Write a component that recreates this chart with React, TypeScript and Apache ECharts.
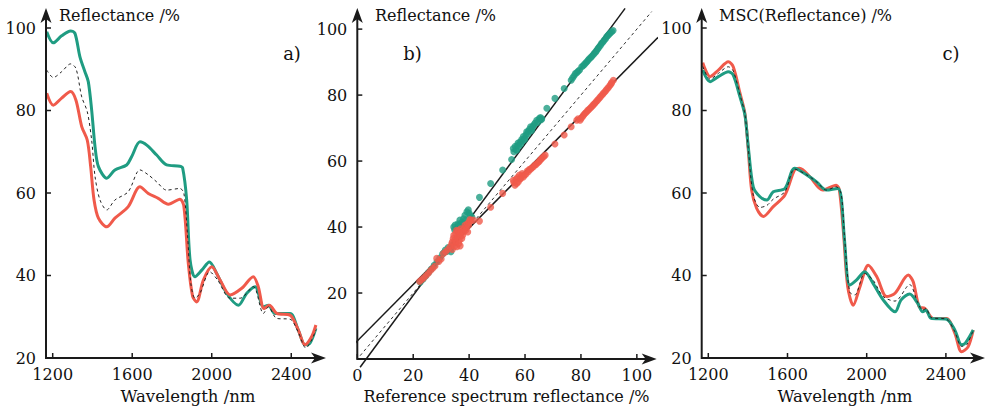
import React, { useEffect, useRef } from "react";
import * as echarts from "echarts";

const GREEN = "#1f9c82";
const RED = "#f05a4b";
const INK = "#1a1a1a";
const FONT = '"DejaVu Serif"';

// tick labels
const wavelengthTicks = [1200, 1600, 2000, 2400];
const reflectanceTicks = [20, 40, 60, 80, 100];
const scatterXTicks = [0, 20, 40, 60, 80, 100];
const scatterYTicks = [20, 40, 60, 80, 100];

// panel a) raw spectra [wavelength nm, reflectance %]
const aGreen = [
  [1170, 99.1], [1203, 96.4], [1245, 98.1], [1290, 99.3], [1312, 98.7], [1337, 93], [1362, 89.4],
  [1379, 87], [1396, 80.1], [1413, 71.2], [1430, 66.4], [1472, 63.6], [1513, 65.6], [1572, 66.8],
  [1597, 68.8], [1639, 72.4], [1673, 71.6], [1723, 69.2], [1773, 66.8], [1840, 66.5], [1854, 66],
  [1874, 58.3], [1891, 43.8], [1916, 39.7], [1950, 41.3], [1988, 43.3], [2025, 40.5], [2075, 35.7],
  [2134, 32.8], [2176, 35.7], [2218, 37.3], [2260, 32.4], [2285, 32.8], [2318, 30.8], [2394, 30.8],
  [2435, 26.8], [2469, 23.2], [2494, 23.6], [2524, 27.2],
];
const aRed = [
  [1170, 84.2], [1203, 81.3], [1245, 83], [1290, 84.6], [1317, 82.5], [1346, 76.1], [1374, 72.8],
  [1391, 66.4], [1408, 58.3], [1430, 53.9], [1472, 51.8], [1513, 53.9], [1580, 56.7], [1639, 61.5],
  [1681, 59.9], [1731, 58.7], [1782, 57.3], [1840, 58.5], [1860, 56.7], [1882, 43], [1904, 34.9],
  [1924, 33.6], [1958, 38.9], [2000, 42.1], [2042, 38.9], [2092, 35.3], [2151, 36.9], [2209, 39.7],
  [2234, 37.3], [2263, 32], [2290, 32.8], [2327, 30.8], [2394, 30.4], [2435, 26.8], [2469, 23.2],
  [2503, 25.2], [2524, 28],
];
const aMean = [
  [1170, 89.8], [1203, 88], [1245, 89.4], [1290, 91.3], [1317, 90.2], [1346, 83.3], [1374, 79.7],
  [1396, 72.8], [1413, 64], [1438, 58.3], [1472, 55.9], [1513, 58.3], [1580, 60.3], [1639, 65.6],
  [1681, 64.4], [1723, 62.7], [1773, 60.7], [1840, 61.1], [1860, 59.9], [1878, 50], [1895, 38],
  [1916, 34.5], [1941, 35.7], [1990, 40.9], [2030, 38.9], [2092, 34.5], [2143, 34.5], [2209, 37.3],
  [2260, 30.8], [2285, 32.4], [2327, 29.6], [2394, 29.4], [2435, 26.3], [2474, 22.4], [2503, 24.4],
  [2524, 26.8],
];

// panel c) MSC corrected spectra
const cGreen = [
  [1172, 89.8], [1209, 87], [1251, 88.2], [1301, 89.4], [1326, 88.6], [1360, 83.3], [1385, 78.9],
  [1402, 71.2], [1427, 61.5], [1461, 59.1], [1496, 58.3], [1528, 60.3], [1587, 61.1], [1636, 66],
  [1697, 64.4], [1747, 62.7], [1797, 60.7], [1854, 61.1], [1871, 59.1], [1888, 48.6], [1914, 37.7],
  [1948, 38.9], [1990, 40.9], [2032, 38.1], [2083, 34.1], [2143, 31.2], [2174, 34.1], [2217, 35.5],
  [2257, 33.3], [2283, 31.2], [2300, 31.6], [2325, 29.6], [2403, 29.4], [2445, 26.8], [2479, 23.2],
  [2498, 23.6], [2538, 26.8],
];
const cRed = [
  [1172, 91.6], [1209, 88.2], [1251, 89.8], [1301, 91.8], [1326, 90.6], [1360, 84.2], [1385, 79.3],
  [1402, 70.4], [1419, 60.7], [1444, 56.3], [1478, 54.3], [1528, 56.7], [1587, 59.5], [1636, 65.6],
  [1661, 66], [1712, 64], [1778, 60.7], [1846, 61.9], [1862, 60.7], [1883, 50.2], [1904, 37.3],
  [1932, 32.8], [1966, 37.3], [2008, 42.5], [2051, 39.7], [2101, 34.9], [2143, 35.7], [2210, 40.1],
  [2235, 38.5], [2265, 32.4], [2294, 32], [2336, 29.6], [2403, 29.6], [2445, 26], [2479, 21.5],
  [2512, 22.7], [2538, 26.8],
];
const cMean = [
  [1172, 90.7], [1209, 87.6], [1251, 89], [1301, 90.6], [1326, 89.6], [1360, 83.8], [1385, 79.1],
  [1402, 70.8], [1427, 59.5], [1461, 56.5], [1496, 57], [1528, 58.5], [1587, 60.3], [1636, 65.8],
  [1697, 64.4], [1747, 62.7], [1797, 60.7], [1846, 61.5], [1871, 59.8], [1888, 49.4], [1914, 36],
  [1940, 35.3], [1990, 40.5], [2032, 38.9], [2083, 34.9], [2143, 33.8], [2217, 37.8], [2257, 33.5],
  [2283, 31.6], [2300, 32], [2325, 29.8], [2403, 29.4], [2445, 26.4], [2479, 22.8], [2505, 23.2],
  [2538, 26.8],
];

// panel b) scatter [reference reflectance, sample reflectance]
const bGreen = [
  [22.5, 23.3], [23.5, 24.2], [24.5, 25.2], [25.5, 26.2], [26.5, 27.3], [27.5, 28.4], [28.5, 29.5],
  [29.5, 30.6], [30.5, 31.8], [31, 32.3], [31.5, 33], [32, 32.6], [32.5, 33.8], [33.5, 33.5],
  [33.5, 32.5], [34, 34.5], [34.5, 40], [34.8, 39.2], [35, 40.6], [35.5, 39.5], [36, 41],
  [36.3, 40.5], [36.7, 42.1], [37, 40.8], [37.5, 41.5], [38, 42.5], [38.5, 43.6], [39, 42.2],
  [39.2, 44.6], [39.7, 45.2], [40, 44.2], [40.5, 43.5], [41, 43], [43.7, 49], [47.7, 53.2],
  [52, 57.3], [55.2, 60.5], [55.8, 63.8], [56, 62.8], [56.5, 64.5], [56.8, 63.5], [57, 63.3],
  [57.3, 64.7], [57.5, 65.5], [57.8, 64.5], [58.2, 65.8], [58.5, 65.2], [58.8, 66.5], [59, 66],
  [59.4, 67.4], [59.8, 66.5], [60, 67], [60.3, 68], [60.6, 68.9], [61, 68.2], [61.2, 69],
  [61.6, 69.6], [62, 70.4], [62.3, 69.2], [62.5, 69.8], [62.8, 70.5], [63.2, 71], [63.6, 71.5],
  [64.2, 72.4], [64.6, 71.8], [65.1, 72.9], [65.5, 73.2], [65.8, 72.5], [66, 72.8], [67.8, 76],
  [70.7, 79], [74, 82], [76.5, 84.5], [77, 85.2], [77.5, 85.8], [78, 86.5], [78.5, 86.8],
  [79, 87.2], [79.5, 87.6], [80.3, 88.6], [80.8, 88.9], [81.2, 89.3], [81.7, 89.7], [82.1, 90.1],
  [82.6, 90.6], [83, 91], [83.5, 91.4], [83.9, 91.8], [84.4, 92.2], [84.8, 92.7], [85.3, 93.1],
  [85.7, 93.6], [86.1, 94.1], [86.5, 94.6], [87, 95.1], [87.4, 95.7], [87.9, 96.1], [88.3, 96.6],
  [88.8, 97.1], [89.2, 97.7], [89.7, 98.1], [90.1, 98.5], [90.5, 98.8], [91, 99.2], [91.5, 99.6],
];
const bRed = [
  [22.3, 23.5], [23, 24], [23.8, 24.6], [24.6, 25.3], [25.4, 26], [26.2, 26.8], [27, 27.5],
  [27.8, 28.2], [28.4, 30.5], [29.2, 29.6], [30, 30.3], [30.8, 32], [31.6, 32.5], [32.4, 33.2],
  [33.2, 34], [33.8, 35], [34, 33.2], [34, 35.5], [34.3, 36.5], [34.5, 37.5], [34.8, 34.2],
  [35, 36.1], [35.2, 38], [35.3, 35.5], [35.5, 39], [35.6, 34], [35.8, 36.8], [36, 37.5],
  [36.1, 38.8], [36.3, 35], [36.5, 36], [36.7, 38.1], [36.8, 34.3], [36.9, 37.2], [37, 39.5],
  [37.2, 38.6], [37.4, 36.5], [37.7, 37.5], [38, 38.5], [38.2, 39.5], [38.5, 40.5], [38.8, 39],
  [39.1, 40.1], [39.3, 41], [39.5, 38.5], [39.8, 40.5], [40, 41.5], [40.3, 42.3], [40.6, 42],
  [41.5, 42.1], [43.7, 41.8], [47.7, 46], [52, 50.2], [55.8, 54.2], [56, 53.5], [56.4, 52.7],
  [56.8, 54.5], [57, 53.2], [57.3, 55], [57.6, 53.7], [58, 55.8], [58.2, 54.5], [58.5, 54.8],
  [58.8, 55.5], [59, 56.2], [59.4, 55.2], [59.8, 55.8], [60.3, 56], [60.8, 57], [61.2, 56.8],
  [61.6, 57.5], [62, 57.5], [62.5, 58], [63, 58.3], [63.5, 58.8], [64, 59], [64.5, 59.5],
  [65, 59.8], [65.4, 60.3], [65.8, 60.6], [66.2, 61], [66.7, 61.4], [67.2, 61.8], [70.7, 65.2],
  [74, 67.9], [76.5, 70.4], [78.5, 72.4], [79, 72.8], [79.7, 72.4], [80.1, 73], [80.6, 73.5],
  [81, 74], [81.5, 74.5], [81.9, 74.8], [82.4, 75.3], [82.8, 75.6], [83.3, 76], [83.7, 76.4],
  [84.2, 76.8], [84.6, 77.2], [85, 77.5], [85.4, 78], [85.9, 78.4], [86.3, 78.8], [86.8, 79.3],
  [87.2, 79.7], [87.7, 80.2], [88.1, 80.6], [88.6, 81], [89, 81.5], [89.5, 82], [89.9, 82.4],
  [90.4, 83], [90.8, 83.4], [91, 83.8], [91.6, 84.5],
];
// regression lines and identity line (end points)
const fitGreen = [[1.0, -2.5], [95.8, 106.3]];
const fitRed = [[-6.4, 0], [107.6, 97.5]];
const identity = [[1, 1], [105.3, 105.3]];

// axis extents per panel
const xExtents = [[1166.3, 2574.8], [0, 107.1], [1166.7, 2597.5]];
const yExtents = [[20, 104.85], [0, 106.4], [20, 104.85]];
const xTickSets = [wavelengthTicks, scatterXTicks, wavelengthTicks];
const yTickSets = [reflectanceTicks, scatterYTicks, reflectanceTicks];

const labelFmt = (v: number) => String(Math.round(v));

function xAxis(gridIndex: number) {
  return {
    type: "value", gridIndex, min: xExtents[gridIndex][0], max: xExtents[gridIndex][1],
    axisLine: { show: false, onZero: false },
    axisTick: { show: false },
    axisLabel: {
      customValues: xTickSets[gridIndex], margin: 8, color: "#111", fontFamily: FONT, fontSize: 16,
      formatter: labelFmt,
    },
    splitLine: { show: false },
  };
}
function yAxis(gridIndex: number) {
  return {
    type: "value", gridIndex, min: yExtents[gridIndex][0], max: yExtents[gridIndex][1],
    axisLine: { show: false, onZero: false },
    axisTick: { show: false },
    axisLabel: {
      customValues: yTickSets[gridIndex], margin: 10, color: "#111", fontFamily: FONT, fontSize: 16,
      formatter: labelFmt,
    },
    splitLine: { show: false },
  };
}

function spectrum(data: number[][], idx: number, color: string, dashed = false) {
  return {
    type: "line", xAxisIndex: idx, yAxisIndex: idx, data, showSymbol: false, smooth: 0.3,
    lineStyle: dashed ? { color: "#222", width: 1, type: [3, 3] } : { color, width: 3 },
    silent: true,
  };
}
function straight(data: number[][], dashed = false) {
  return {
    type: "line", xAxisIndex: 1, yAxisIndex: 1, data, showSymbol: false, clip: false,
    lineStyle: dashed ? { color: "#333", width: 1, type: [3, 3] } : { color: INK, width: 1.5 },
    silent: true, z: 1,
  };
}
function txt(x: number, y: number, text: string, size: number, align = "left") {
  return {
    type: "text", x, y, z: 20,
    style: { text, fill: "#111", font: `${size}px ${FONT}`, align, verticalAlign: "middle" },
  };
}

export default function App() {
  const ref = useRef<HTMLDivElement>(null);
  useEffect(() => {
    if (!ref.current) return;
    const chart = echarts.init(ref.current, null, { renderer: "svg" });
    chart.setOption({
      animation: false,
      backgroundColor: "#fff",
      grid: [
        { left: 46, top: 8, width: 280, height: 350 },
        { left: 357.3, top: 8, width: 299.4, height: 351 },
        { left: 701.7, top: 8, width: 283.3, height: 350 },
      ],
      xAxis: [xAxis(0), xAxis(1), xAxis(2)],
      yAxis: [yAxis(0), yAxis(1), yAxis(2)],
      series: [
        spectrum(aGreen, 0, GREEN),
        spectrum(aRed, 0, RED),
        spectrum(aMean, 0, "#222", true),
        straight(identity, true),
        straight(fitGreen),
        straight(fitRed),
        {
          type: "scatter", xAxisIndex: 1, yAxisIndex: 1, data: bGreen, symbolSize: 7,
          itemStyle: { color: GREEN }, silent: true, z: 2,
        },
        {
          type: "scatter", xAxisIndex: 1, yAxisIndex: 1, data: bRed, symbolSize: 7,
          itemStyle: { color: RED }, silent: true, z: 3,
        },
        spectrum(cRed, 2, RED),
        spectrum(cGreen, 2, GREEN),
        spectrum(cMean, 2, "#222", true),
      ],
    });

    // axis lines with arrow heads and inward ticks, positioned through the axes' own scales
    const g: any[] = [];
    const AL = 15, AW = 5.5, AN = 11;
    for (let i = 0; i < 3; i++) {
      const finder = { xAxisIndex: i, yAxisIndex: i };
      const [x0, y0] = chart.convertToPixel(finder, [xExtents[i][0], yExtents[i][0]]) as number[];
      const [x1] = chart.convertToPixel(finder, [xExtents[i][1], yExtents[i][0]]) as number[];
      const [, y1] = chart.convertToPixel(finder, [xExtents[i][0], yExtents[i][1]]) as number[];
      g.push({ type: "line", z: 10, shape: { x1: x0, y1: y0, x2: x1 - AN + 1, y2: y0 }, style: { stroke: INK, lineWidth: 2 } });
      g.push({ type: "line", z: 10, shape: { x1: x0, y1: y0 + 1, x2: x0, y2: y1 + AN - 1 }, style: { stroke: INK, lineWidth: 2 } });
      g.push({
        type: "polygon", z: 11,
        shape: { points: [[x1, y0], [x1 - AL, y0 - AW], [x1 - AN, y0], [x1 - AL, y0 + AW]] },
        style: { fill: INK },
      });
      g.push({
        type: "polygon", z: 11,
        shape: { points: [[x0, y1], [x0 - AW, y1 + AL], [x0, y1 + AN], [x0 + AW, y1 + AL]] },
        style: { fill: INK },
      });
      for (const t of xTickSets[i]) {
        const [tx] = chart.convertToPixel(finder, [t, yExtents[i][0]]) as number[];
        g.push({ type: "line", z: 10, shape: { x1: tx, y1: y0, x2: tx, y2: y0 - 5 }, style: { stroke: INK, lineWidth: 1.5 } });
      }
      for (const t of yTickSets[i]) {
        const [, ty] = chart.convertToPixel(finder, [xExtents[i][0], t]) as number[];
        g.push({ type: "line", z: 10, shape: { x1: x0, y1: ty, x2: x0 + 5, y2: ty }, style: { stroke: INK, lineWidth: 1.5 } });
      }
    }
    g.push(
      txt(59, 15, "Reflectance /%", 16),
      txt(375, 15, "Reflectance /%", 16),
      txt(719, 15, "MSC(Reflectance) /%", 16),
      txt(292, 53, "a)", 18, "center"),
      txt(412.5, 53, "b)", 18, "center"),
      txt(951, 53, "c)", 18, "center"),
      txt(188, 396, "Wavelength /nm", 16.5, "center"),
      txt(506.5, 396, "Reference spectrum reflectance /%", 16, "center"),
      txt(845, 396, "Wavelength /nm", 16.5, "center"),
    );
    chart.setOption({ graphic: g });
    return () => chart.dispose();
  }, []);
  return <div ref={ref} style={{ position: "absolute", left: 0, top: 0, width: 989, height: 411 }} />;
}
